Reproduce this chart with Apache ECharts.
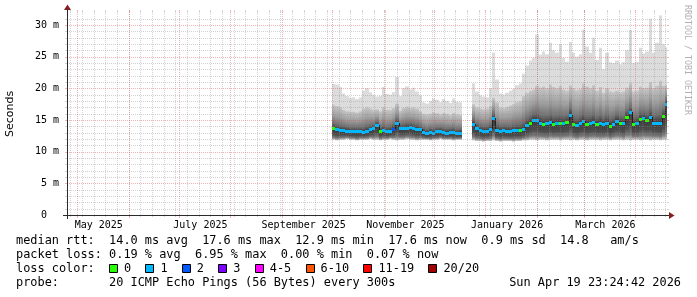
<!DOCTYPE html>
<html>
<head>
<meta charset="utf-8">
<script src="https://cdn.jsdelivr.net/npm/echarts@6.0.0/dist/echarts.min.js"></script>
<style>
html,body{margin:0;padding:0;background:#ffffff;}
#chart{width:697px;height:297px;}
</style>
</head>
<body>
<div id="chart"></div>
<script>
// ---------------- graph range (360 days ending at the timestamp) ----------------
const rangeStart = '2025-04-24T23:24:42Z';
const rangeEnd = '2026-04-19T23:24:42Z';
const sampleDays = 2;

// ---------------- segment 1 (Oct - Dec 2025) ----------------
const seg1Dates = ['2025-10-01','2025-10-03','2025-10-05','2025-10-07','2025-10-09','2025-10-11','2025-10-13','2025-10-15','2025-10-17','2025-10-19','2025-10-21','2025-10-23','2025-10-25','2025-10-27','2025-10-29','2025-10-31',
  '2025-11-02','2025-11-04','2025-11-06','2025-11-08','2025-11-10','2025-11-12','2025-11-14','2025-11-16','2025-11-18','2025-11-20','2025-11-22','2025-11-24','2025-11-26','2025-11-28','2025-11-30',
  '2025-12-02','2025-12-04','2025-12-06','2025-12-08','2025-12-10','2025-12-12','2025-12-14','2025-12-16'];
const seg1Median = [13.7,13.5,13.4,13.4,13.3,13.2,13.2,13.2,13.2,13.1,13.3,13.5,13.7,14.2,13.2,13.4,13.2,13.3,13.6,14.5,13.7,13.7,13.8,13.9,13.7,13.6,13.5,13.1,12.9,13.1,13.0,13.2,13.3,13.1,13.0,13.1,13.1,12.9,13.0];
const seg1Loss   = [0,1,1,1,1,1,1,1,1,1,1,1,1,1,0,1,1,1,2,1,1,1,1,1,1,1,1,1,1,1,1,1,1,1,1,1,1,1,1];
const seg1Min    = [11.9,11.8,11.9,11.9,12.0,11.9,11.9,11.8,11.9,11.9,11.9,12.0,11.9,11.9,11.8,11.9,11.9,12.0,11.9,11.8,11.9,11.9,12.0,11.9,11.9,11.8,11.9,11.9,11.9,11.8,11.9,11.9,12.0,11.9,11.9,11.9,11.8,11.9,11.9];
const seg1Upper  = [17.4,17.2,17.0,16.6,16.4,16.3,16.3,16.2,16.4,16.8,17.0,16.8,16.6,16.7,16.4,17.0,16.6,16.6,16.9,17.6,16.5,16.9,17.1,16.9,17.0,16.8,16.4,16.0,15.9,16.0,16.2,16.1,15.9,16.1,16.0,15.8,16.1,15.9,15.8];
const seg1Max    = [20.7,20.6,20.2,19.2,18.8,18.5,18.6,18.3,18.6,19.6,20.0,19.4,19.0,18.7,18.8,20.2,19.1,19.0,19.4,21.8,18.8,20.0,20.3,19.8,20.1,19.5,18.9,17.8,17.6,18.0,18.4,18.2,17.8,18.3,18.0,17.7,18.4,17.9,17.8];

// ---------------- segment 2 (Dec 2025 - Apr 2026) ----------------
const seg2Dates = ['2025-12-24','2025-12-26','2025-12-28','2025-12-30',
  '2026-01-01','2026-01-03','2026-01-05','2026-01-07','2026-01-09','2026-01-11','2026-01-13','2026-01-15','2026-01-17','2026-01-19','2026-01-21','2026-01-23','2026-01-25','2026-01-27','2026-01-29','2026-01-31',
  '2026-02-02','2026-02-04','2026-02-06','2026-02-08','2026-02-10','2026-02-12','2026-02-14','2026-02-16','2026-02-18','2026-02-20','2026-02-22','2026-02-24','2026-02-26','2026-02-28',
  '2026-03-02','2026-03-04','2026-03-06','2026-03-08','2026-03-10','2026-03-12','2026-03-14','2026-03-16','2026-03-18','2026-03-20','2026-03-22','2026-03-24','2026-03-26','2026-03-28','2026-03-30',
  '2026-04-01','2026-04-03','2026-04-05','2026-04-07','2026-04-09','2026-04-11','2026-04-13','2026-04-15','2026-04-17','2026-04-19'];
const seg2Median = [14.4,13.7,13.4,13.3,13.3,13.6,15.3,13.4,13.3,13.4, 13.3,13.2,13.4,13.4,13.4,13.6,14.2,14.6,15.0,15.0, 14.6,14.4,14.5,14.7,14.4,14.5,14.6,14.5,14.7,15.8, 14.3,14.2,14.5,14.8,14.4,14.5,14.7,14.4,14.6,14.3, 14.6,14.1,14.4,14.9,14.6,14.5,15.5,16.2,14.4,14.5, 15.2,15.3,15.0,15.4,14.6,14.6,14.6,15.6,17.6];
const seg2Loss   = [1,1,1,1,1,1,1,1,1,1, 1,1,1,1,0,1,1,0,1,1, 1,0,1,1,0,1,0,1,0,1, 0,1,1,1,0,1,1,0,1,1, 1,0,1,1,0,1,0,1,0,1, 0,1,0,1,1,1,1,0,1];
const seg2Min    = [11.8,11.7,11.7,11.6,11.7,11.7,11.8,11.7,11.6,11.7, 11.7,11.7,11.6,11.7,11.7,11.8,11.8,11.9,11.9,11.8, 11.9,11.9,11.8,11.9,11.9,11.9,11.8,11.9,11.9,11.8, 11.9,11.8,11.9,11.9,11.8,11.9,11.9,11.9,11.8,11.9, 11.9,11.8,11.9,11.9,11.9,11.8,11.9,11.8,11.9,11.9, 11.8,11.9,11.9,11.8,11.9,11.9,11.8,11.9,11.9];
const seg2Upper  = [17.5,17.0,16.8,16.7,16.8,17.2,18.5,17.8,17.0,16.9, 17.1,17.3,17.5,17.8,18.0,18.8,19.3,19.6,19.8,20.4, 20.1,20.3,20.0,20.6,20.2,20.0,20.4,19.8,19.6,20.5, 20.0,19.7,19.9,20.8,20.3,20.0,20.5,19.6,20.2,19.3, 20.0,19.5,19.4,19.6,19.4,19.5,20.1,20.8,19.5,19.6, 20.3,20.0,20.1,21.0,20.0,20.4,21.2,20.4,20.5];
const seg2Max    = [20.8,19.5,18.9,18.7,18.6,20.0,25.6,21.4,19.2,19.0, 19.3,19.6,19.9,20.5,20.8,22.3,23.6,24.4,24.8,28.5, 25.3,25.8,25.4,27.2,26.0,25.6,27.0,24.8,24.2,27.3, 25.6,25.0,25.4,29.3,26.6,25.6,28.0,24.5,26.4,23.0, 25.6,24.1,24.0,24.4,23.8,24.1,26.0,29.2,24.0,24.2, 26.4,25.5,25.8,31.0,25.6,27.2,31.5,27.0,26.5];

// ---------------- axes / ticks ----------------
const monthTicks = ['2025-05-01','2025-06-01','2025-07-01','2025-08-01','2025-09-01','2025-10-01','2025-11-01','2025-12-01','2026-01-01','2026-02-01','2026-03-01','2026-04-01'];
const monthLabelTicks = ['2025-05-01','2025-07-01','2025-09-01','2025-11-01','2026-01-01','2026-03-01'];
const monthLabels = ['May 2025','July 2025','September 2025','November 2025','January 2026','March 2026'];
const firstWeekTick = '2025-04-27';
const yMax = 32, yMajor = 5, yMinor = 1;

// ---------------- legend / footer texts ----------------
const lossLegendLabels = ['0','1','2','3','4-5','6-10','11-19','20/20'];
const lossLegendColors = ['#26ff00','#00b8ff','#0059ff','#7e00ff','#ff00ff','#ff5500','#ff0000','#a10000'];
const footerLines = [
  'median rtt:  14.0 ms avg  17.6 ms max  12.9 ms min  17.6 ms now  0.9 ms sd  14.8   am/s',
  'packet loss: 0.19 % avg  6.95 % max  0.00 % min  0.07 % now',
  'loss color:',
  'probe:       20 ICMP Echo Pings (56 Bytes) every 300s'
];
const timestampText = 'Sun Apr 19 23:24:42 2026';
const yAxisName = 'Seconds';
const watermarkText = 'RRDTOOL / TOBI OETIKER';

// ---------------- build ----------------
const DAY = 86400000;
const ts = d => Date.parse(d.length > 10 ? d : d + 'T00:00:00Z');
const T0 = ts(rangeStart), T1 = ts(rangeEnd);

function smokeOf(dates, lo, med, up, hi) {
  return dates.map((d, i) => [ts(d), ts(d) + sampleDays * DAY, lo[i], med[i], up[i], hi[i]]);
}
function medianOf(dates, med, loss) {
  return dates.map((d, i) => [ts(d), ts(d) + sampleDays * DAY, med[i], loss[i], i > 0 ? med[i - 1] : -1]);
}
const smokeData = smokeOf(seg1Dates, seg1Min, seg1Median, seg1Upper, seg1Max)
  .concat(smokeOf(seg2Dates, seg2Min, seg2Median, seg2Upper, seg2Max));
const medianData = medianOf(seg1Dates, seg1Median, seg1Loss)
  .concat(medianOf(seg2Dates, seg2Median, seg2Loss));

const weekTicks = [];
for (let t = ts(firstWeekTick); t < T1; t += 7 * DAY) weekTicks.push(t);
const vGridData = weekTicks.map(t => [t, 0, 0]).concat(monthTicks.map(d => [ts(d), 0, 1]));
const hGridData = [];
for (let v = yMinor; v < yMax; v += yMinor) hGridData.push([T0, v, v % yMajor === 0 ? 1 : 0]);
const labelData = monthLabelTicks.map((d, i) => [ts(d) + 13 * DAY, 0, i]);

const MINOR_COL = 'rgba(140,140,140,0.38)';
const MAJOR_COL = 'rgba(222,79,79,0.42)';
const AXIS_COL = '#2a2a2a';
const ARROW_COL = '#801f1f';

function grad(stops) {
  return new echarts.graphic.LinearGradient(0, 0, 0, 1, stops.map(s => ({offset: s[0], color: s[1]})));
}

const chart = echarts.init(document.getElementById('chart'), null, {renderer: 'canvas', width: 697, height: 297});

const CW = 7.15; // monospace advance of footer font
const FOOT_FONT = '11.9px "DejaVu Sans Mono"';
const graphics = [];
const lineY = [241, 255, 269, 283];
footerLines.forEach((txt, i) => {
  graphics.push({type: 'text', x: 16, y: lineY[i], silent: true,
    style: {text: txt, font: FOOT_FONT, fill: '#000', align: 'left', verticalAlign: 'middle', textAlign: 'left', textVerticalAlign: 'middle'}});
});
graphics.push({type: 'text', x: 681, y: lineY[3], silent: true,
  style: {text: timestampText, font: FOOT_FONT, fill: '#000', align: 'right', verticalAlign: 'middle', textAlign: 'right', textVerticalAlign: 'middle'}});
let bx = 16 + 13 * CW;
lossLegendLabels.forEach((lab, i) => {
  graphics.push({type: 'rect', silent: true, shape: {x: Math.round(bx) + 0.5, y: lineY[2] - 4.5, width: 8, height: 8},
    style: {fill: lossLegendColors[i], stroke: '#000', lineWidth: 1}});
  const lx = bx + 15;
  graphics.push({type: 'text', x: lx, y: lineY[2], silent: true,
    style: {text: lab, font: FOOT_FONT, fill: '#000', align: 'left', verticalAlign: 'middle', textAlign: 'left', textVerticalAlign: 'middle'}});
  bx = lx + (lab.length + 2) * CW;
});
graphics.push({type: 'text', x: 10, y: 114, rotation: Math.PI / 2, silent: true,
  style: {text: yAxisName, font: '11px "DejaVu Sans"', fill: '#000', align: 'center', verticalAlign: 'middle', textAlign: 'center', textVerticalAlign: 'middle'}});
graphics.push({type: 'text', x: 687, y: 60, rotation: -Math.PI / 2, silent: true,
  style: {text: watermarkText, font: '8.3px "DejaVu Sans Mono"', fill: '#b0b0b0', align: 'center', verticalAlign: 'middle', textAlign: 'center', textVerticalAlign: 'middle'}});

const option = {
  animation: false,
  backgroundColor: '#ffffff',
  grid: {left: 67, top: 12.333, width: 600, height: 202.667, show: false, containLabel: false},
  xAxis: {type: 'time', min: T0, max: T1, show: false},
  yAxis: {type: 'value', min: 0, max: yMax, interval: yMajor,
    axisLine: {show: false}, axisTick: {show: false}, splitLine: {show: false},
    axisLabel: {margin: 8, fontFamily: 'DejaVu Sans Mono', fontSize: 10, color: '#000',
      formatter: v => v === 0 ? '0  ' : (v % yMajor === 0 ? v + ' m' : '')}},
  graphic: graphics,
  series: [
    { // smoke
      type: 'custom', silent: true, clip: true, z: 1,
      encode: {x: [0, 1], y: [2, 3, 4, 5]},
      data: smokeData,
      renderItem(params, api) {
        const x0 = Math.round(api.coord([api.value(0), 0])[0]);
        const x1 = Math.round(api.coord([api.value(1), 0])[0]);
        const w = x1 - x0;
        const yLo = api.coord([api.value(0), api.value(2)])[1];
        const yMed = api.coord([api.value(0), api.value(3)])[1];
        const yUp = api.coord([api.value(0), api.value(4)])[1];
        const yHi = api.coord([api.value(0), api.value(5)])[1];
        return {type: 'group', children: [
          {type: 'rect', shape: {x: x0, y: yHi, width: w, height: yLo - yHi}, style: {fill: '#dcdcdc'}},
          {type: 'rect', shape: {x: x0, y: yUp, width: w, height: yMed - yUp},
            style: {fill: grad([[0, '#c6c6c6'], [0.45, '#9e9e9e'], [0.8, '#6e6e6e'], [1, '#3a3a3a']])}},
          {type: 'rect', shape: {x: x0, y: yMed, width: w, height: yLo - yMed},
            style: {fill: grad([[0, '#3a3a3a'], [0.5, '#4c4c4c'], [0.8, '#7a7a7a'], [1, '#cdcdcd']])}}
        ]};
      }
    },
    { // median coloured by loss
      type: 'custom', silent: true, clip: true, z: 3,
      encode: {x: [0, 1], y: [2]},
      data: medianData,
      renderItem(params, api) {
        const x0 = Math.round(api.coord([api.value(0), 0])[0]);
        const x1 = Math.round(api.coord([api.value(1), 0])[0]);
        const y = Math.round(api.coord([api.value(0), api.value(2)])[1]);
        const prev = api.value(4);
        const kids = [];
        if (prev >= 0) {
          const yp = Math.round(api.coord([api.value(0), prev])[1]);
          kids.push({type: 'line', shape: {x1: x0 + 0.5, y1: yp, x2: x0 + 0.5, y2: y}, style: {stroke: '#202020', lineWidth: 1}});
        }
        kids.push({type: 'rect', shape: {x: x0, y: y - 1, width: x1 - x0, height: 3},
          style: {fill: lossLegendColors[api.value(3)]}});
        return {type: 'group', children: kids};
      }
    },
    { // vertical grid
      type: 'custom', silent: true, clip: false, z: 5,
      data: vGridData,
      renderItem(params, api) {
        const cs = params.coordSys;
        const x = Math.round(api.coord([api.value(0), 0])[0]) + 0.5;
        const major = api.value(2) === 1;
        const col = major ? MAJOR_COL : MINOR_COL;
        const top = Math.round(cs.y), bot = Math.round(cs.y + cs.height);
        return {type: 'group', children: [
          {type: 'line', shape: {x1: x, y1: top, x2: x, y2: bot}, style: {stroke: col, lineWidth: 1, lineDash: [1, 1]}},
          {type: 'line', shape: {x1: x, y1: top - 2, x2: x, y2: top}, style: {stroke: col, lineWidth: 1}},
          {type: 'line', shape: {x1: x, y1: bot, x2: x, y2: bot + (major ? 3 : 2)}, style: {stroke: col, lineWidth: 1}}
        ]};
      }
    },
    { // horizontal grid
      type: 'custom', silent: true, clip: false, z: 5,
      data: hGridData,
      renderItem(params, api) {
        const cs = params.coordSys;
        const y = Math.round(api.coord([api.value(0), api.value(1)])[1]) + 0.5;
        const major = api.value(2) === 1;
        const col = major ? MAJOR_COL : MINOR_COL;
        const l = Math.round(cs.x), r = Math.round(cs.x + cs.width);
        return {type: 'group', children: [
          {type: 'line', shape: {x1: l, y1: y, x2: r, y2: y}, style: {stroke: col, lineWidth: 1, lineDash: [1, 1]}},
          {type: 'line', shape: {x1: l - 2, y1: y, x2: l, y2: y}, style: {stroke: col, lineWidth: 1}},
          {type: 'line', shape: {x1: r, y1: y, x2: r + 2, y2: y}, style: {stroke: col, lineWidth: 1}}
        ]};
      }
    },
    { // axes + arrows
      type: 'custom', silent: true, clip: false, z: 6,
      data: [[T0, 0]],
      renderItem(params, api) {
        const cs = params.coordSys;
        const ox = Math.round(cs.x), oy = Math.round(cs.y + cs.height);
        const ex = Math.round(cs.x + cs.width), ty = Math.round(cs.y);
        return {type: 'group', children: [
          {type: 'line', shape: {x1: ox - 4, y1: oy + 0.5, x2: ex + 4, y2: oy + 0.5}, style: {stroke: AXIS_COL, lineWidth: 1}},
          {type: 'line', shape: {x1: ox + 0.5, y1: oy + 4, x2: ox + 0.5, y2: ty - 4}, style: {stroke: AXIS_COL, lineWidth: 1}},
          {type: 'polygon', shape: {points: [[ex + 2, oy - 3], [ex + 2, oy + 4], [ex + 7.5, oy + 0.5]]}, style: {fill: ARROW_COL}},
          {type: 'polygon', shape: {points: [[ox - 3, ty - 2], [ox + 4, ty - 2], [ox + 0.5, ty - 7.5]]}, style: {fill: ARROW_COL}}
        ]};
      }
    },
    { // month labels
      type: 'custom', silent: true, clip: false, z: 6,
      data: labelData,
      renderItem(params, api) {
        const cs = params.coordSys;
        const x = api.coord([api.value(0), 0])[0];
        return {type: 'text', x: x, y: cs.y + cs.height + 10.5,
          style: {text: monthLabels[api.value(2)], font: '10px "DejaVu Sans Mono"', fill: '#000',
            align: 'center', verticalAlign: 'middle', textAlign: 'center', textVerticalAlign: 'middle'}};
      }
    }
  ]
};
chart.setOption(option);
</script>
</body>
</html>
